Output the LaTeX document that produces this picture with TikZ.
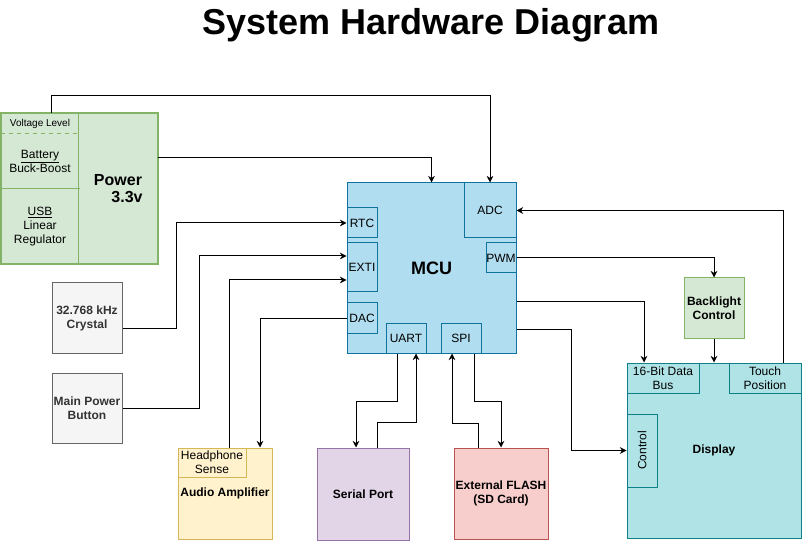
\documentclass[tikz,border=0pt]{standalone}
\usepackage{fontspec}
\setmainfont{Liberation Sans}
\usetikzlibrary{arrows.meta}

\definecolor{pwrfill}{HTML}{D5E8D4}
\definecolor{pwrline}{HTML}{82B366}
\definecolor{mcufill}{HTML}{B1DDF0}
\definecolor{mculine}{HTML}{10739E}
\definecolor{extfill}{HTML}{F5F5F5}
\definecolor{extline}{HTML}{666666}
\definecolor{exttext}{HTML}{333333}
\definecolor{audiofill}{HTML}{FFF2CC}
\definecolor{audioline}{HTML}{D6B656}
\definecolor{serialfill}{HTML}{E1D5E7}
\definecolor{serialline}{HTML}{9673A6}
\definecolor{flashfill}{HTML}{F8CECC}
\definecolor{flashline}{HTML}{B85450}
\definecolor{dispfill}{HTML}{B0E3E6}
\definecolor{displine}{HTML}{0E8088}

\begin{document}
\begin{tikzpicture}[x=0.75pt, y=-0.75pt,
        box/.style={draw, line width=0.75pt, align=center, inner sep=0pt, font=\fontsize{9}{10.5}\selectfont},
        boldbox/.style={box, font=\fontsize{9}{10.5}\selectfont\bfseries},
        pwrcell/.style={box, draw=none, fill=pwrfill},
        mcupart/.style={box, fill=mcufill, draw=mculine},
        extpart/.style={boldbox, fill=extfill, draw=extline, text=exttext},
        disppart/.style={box, fill=dispfill, draw=displine},
        arrow/.style={-{Stealth[length=5pt, width=5pt]}, line width=0.75pt}
    ]
        \useasboundingbox (0,0) rectangle (802,541);

        % Title
        \node[anchor=base, font=\fontsize{27}{30}\selectfont\bfseries] (title) at (431,34.5) {System Hardware Diagram};

        % Power
        \node[pwrcell, minimum width=58.5pt, minimum height=14.25pt, font=\fontsize{7.5}{9}\selectfont] (volt) at (40,123.5) {Voltage Level};
        \node[pwrcell, minimum width=58.5pt, minimum height=42pt] (battery) at (40,161) {\underline{Battery}\\Buck-Boost};
        \node[pwrcell, minimum width=58.5pt, minimum height=56.25pt] (usb) at (40,226.5) {\underline{USB}\\Linear\\Regulator};
        \node[pwrcell, minimum width=58.5pt, minimum height=112.5pt, font=\fontsize{12}{12.75}\selectfont\bfseries] (power) at (118,189) {Power\\\hspace*{13.5pt}3.3v};
        \draw[pwrline, line width=0.75pt, dashed] (volt.south west) -- (volt.south east);
        \draw[pwrline, line width=0.75pt] (usb.north west) -- (usb.north east);
        \draw[pwrline, line width=0.75pt] (power.north west) -- (power.south west);
        \draw[pwrline, line width=1.5pt] (volt.north west) rectangle (power.south east);

        % MCU
        \node[mcupart, minimum width=126.75pt, minimum height=127.5pt, font=\fontsize{13.5}{15}\selectfont\bfseries] (mcu) at (431.5,268) {MCU};
        \node[mcupart, minimum width=39pt, minimum height=41.25pt] (adc) at (490,210.5) {ADC};
        \node[mcupart, minimum width=22.5pt, minimum height=22.5pt] (rtc) at (362,223) {RTC};
        \node[mcupart, minimum width=22.5pt, minimum height=36.75pt] (exti) at (362,267.5) {EXTI};
        \node[mcupart, minimum width=22.5pt, minimum height=22.5pt] (dac) at (362,318) {DAC};
        \node[mcupart, minimum width=22.5pt, minimum height=22.5pt] (pwm) at (501,258) {PWM};
        \node[mcupart, minimum width=30pt, minimum height=22.5pt] (uart) at (406,338) {UART};
        \node[mcupart, minimum width=30pt, minimum height=22.5pt] (spi) at (461,338) {SPI};

        % Inputs
        \node[extpart, minimum width=52.5pt, minimum height=52.5pt] (crystal) at (87,318) {32.768 kHz\\Crystal};
        \node[extpart, minimum width=52.5pt, minimum height=52.5pt] (button) at (87,408) {Main Power\\Button};

        % Peripherals
        \node[boldbox, fill=audiofill, draw=audioline, minimum width=70.5pt, minimum height=68.25pt] (audio) at (225,493.5) {Audio Amplifier};
        \node[box, fill=audiofill, draw=audioline, minimum width=51pt, minimum height=21.75pt] (headphone) at (212,462.5) {Headphone\\Sense};
        \node[boldbox, fill=serialfill, draw=serialline, minimum width=69pt, minimum height=69pt] (serial) at (363,494) {Serial Port};
        \node[boldbox, fill=flashfill, draw=flashline, minimum width=70.5pt, minimum height=68.25pt] (flash) at (501,493.5) {External FLASH\\(SD Card)};
        \node[boldbox, fill=pwrfill, draw=pwrline, minimum width=45pt, minimum height=45pt] (backlight) at (714,308) {Backlight\\Control};

        % Display
        \node[disppart, font=\fontsize{9}{10.5}\selectfont\bfseries, minimum width=130.5pt, minimum height=131.25pt] (display) at (714,450.5) {Display};
        \node[disppart, minimum width=54pt, minimum height=22.5pt] (databus) at (663,378) {16-Bit Data\\Bus};
        \node[disppart, minimum width=54pt, minimum height=22.5pt] (touch) at (765,378) {Touch\\Position};
        \node[disppart, minimum width=22.5pt, minimum height=54.75pt] (control) at (642,450.5) {\rotatebox{90}{Control}};

        % Power to MCU
        \draw[arrow] ([xshift=8.25pt]volt.north) -- ++(0,-18) -| (adc.north);
        \draw[arrow] (power.east |- 0,158) -| (mcu.north);

        % Inputs to MCU
        \draw[arrow] (crystal.east |- 0,328) -- ++(54,0) |- (rtc.west);
        \draw[arrow] (button.east) -- ++(77,0) |- (exti.west |- 0,256);
        \draw[arrow] (headphone.north -| 229,0) |- (exti.west |- 0,280);
        \draw[arrow] (dac.west) -| (audio.north -| 260,0);

        % UART and SPI
        \draw[arrow] (uart.south -| 397,0) -- ++(0,48) -| (serial.north -| 356,0);
        \draw[arrow] (serial.north -| 377,0) -- ++(0,-25) -| (uart.south -| 416,0);
        \draw[arrow] (flash.north -| 478,0) -- ++(0,-24) -| (spi.south -| 452,0);
        \draw[arrow] (spi.south -| 474,0) -- ++(0,48) -| (flash.north -| 501,0);

        % Display links
        \draw[arrow] (touch.north -| 783,0) |- (adc.east);
        \draw[arrow] (pwm.east) -| (backlight.north);
        \draw[arrow] (backlight.south) -- (backlight.south |- display.north);
        \draw[arrow] (mcu.east |- 0,302) -| (databus.north -| 644,0);
        \draw[arrow] (mcu.east |- 0,329) -- ++(55,0) |- (control.west);
    \end{tikzpicture}
\end{document}
